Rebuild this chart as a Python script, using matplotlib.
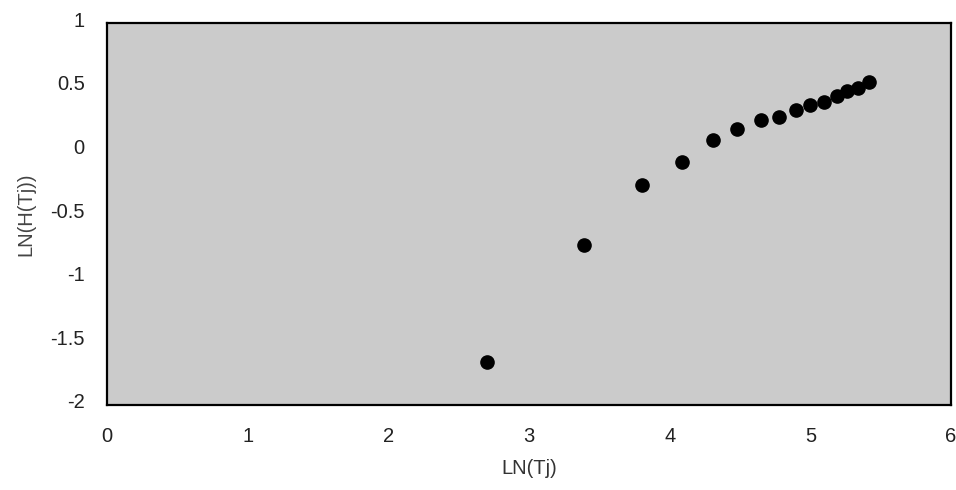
import numpy as np
import matplotlib.pyplot as plt
import matplotlib.transforms as mtransforms

plt.rcParams["font.family"] = ["Liberation Sans", "DejaVu Sans"]
plt.rcParams["font.size"] = 14.5

# values
ln_tj = [2.70, 3.39, 3.80, 4.09, 4.31, 4.48, 4.65, 4.78, 4.90, 5.00, 5.10, 5.19, 5.26, 5.34, 5.42]
ln_h = [-1.66, -0.74, -0.27, -0.09, 0.08, 0.17, 0.24, 0.26, 0.32, 0.36, 0.38, 0.43, 0.47, 0.49, 0.54]

xticks = [0, 1, 2, 3, 4, 5, 6]
yticks = [-2, -1.5, -1, -0.5, 0, 0.5, 1]
yticklabels = ['-2', '-1.5', '-1', '-0.5', '0', '0.5', '1']

fig = plt.figure(figsize=(9.56, 4.9), dpi=100)
ax = fig.add_axes([0.112, 0.1735, 0.8828, 0.7795])
ax.set_facecolor('#cbcbcb')

ax.plot(ln_tj, ln_h, 'o', color='black', markersize=9.5, zorder=3)

ax.set_xlim(0, 6)
ax.set_ylim(-2, 1)
ax.set_xticks(xticks)
ax.set_yticks(yticks)
ax.set_yticklabels(yticklabels)
ax.tick_params(length=0, colors='#222222')
ax.tick_params(axis='x', pad=16)
ax.tick_params(axis='y', pad=16)
# the scanned y labels sit a few pixels above their ticks
shift = mtransforms.ScaledTranslation(0, 4 / 100, fig.dpi_scale_trans)
for lab in ax.get_yticklabels():
    lab.set_transform(lab.get_transform() + shift)
for s in ax.spines.values():
    s.set_linewidth(1.6)
    s.set_color('black')

ax.set_xlabel('LN(Tj)', color='#333333', labelpad=9)
ax.set_ylabel('LN(H(Tj))', color='#444444', labelpad=11)

fig.savefig('out.png', dpi=100)
